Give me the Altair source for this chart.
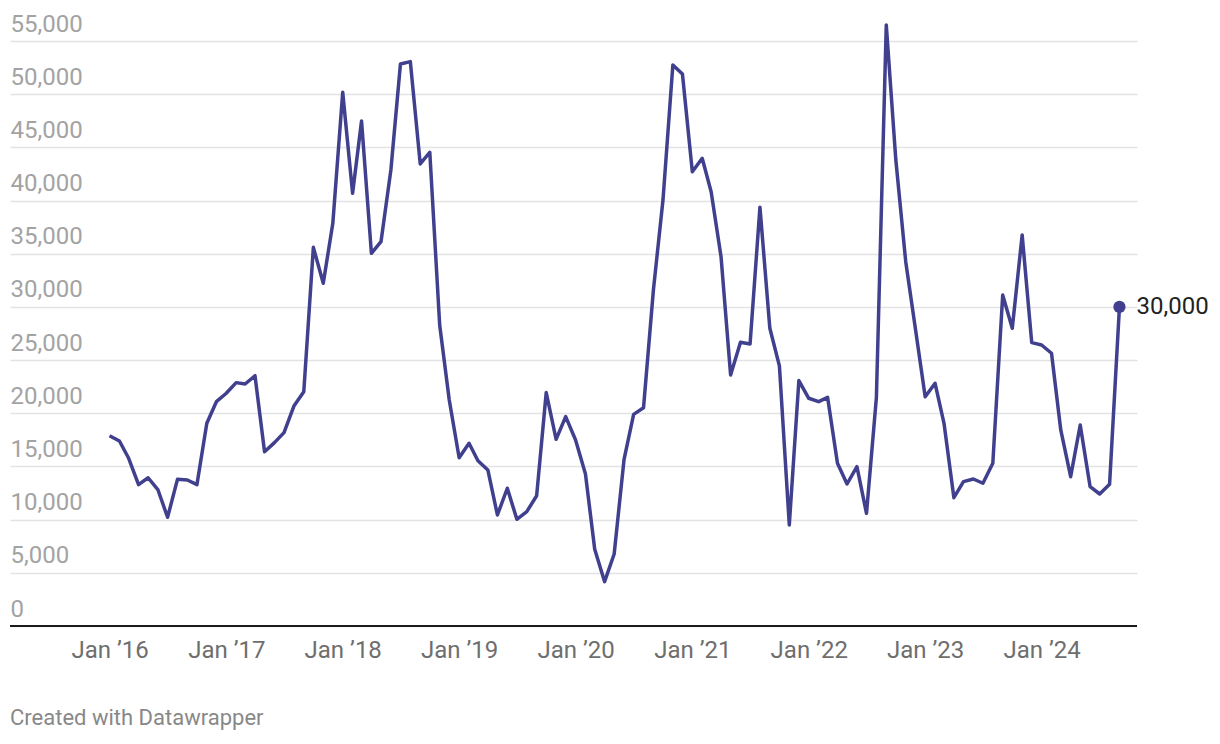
import altair as alt
import pandas as pd

# Monthly values, Jan 2016 .. Sep 2024
v2016 = [17890, 17390, 15770, 13290, 13940, 12790, 10220, 13790, 13730, 13290, 19060, 21090]
v2017 = [21880, 22880, 22750, 23530, 16390, 17240, 18180, 20680, 22030, 35600, 32220, 37860]
v2018 = [50180, 40680, 47480, 35040, 36130, 42870, 52840, 53060, 43440, 44540, 28300, 21250]
v2019 = [15820, 17180, 15540, 14670, 10440, 12950, 10030, 10750, 12250, 21950, 17550, 19680]
v2020 = [17490, 14290, 7210, 4170, 6770, 15670, 19900, 20520, 31590, 40050, 52750, 51900]
v2021 = [42710, 43970, 40830, 34720, 23600, 26670, 26510, 39370, 27990, 24450, 9500, 23070]
v2022 = [21410, 21090, 21500, 15300, 13350, 14980, 10590, 21480, 56510, 43810, 34250, 28020]
v2023 = [21560, 22820, 19060, 12060, 13570, 13820, 13420, 15300, 31120, 27990, 36760, 26640]
v2024 = [26420, 25640, 18430, 14040, 18900, 13100, 12410, 13320, 30000]

values = v2016 + v2017 + v2018 + v2019 + v2020 + v2021 + v2022 + v2023 + v2024
dates = pd.date_range("2016-01-01", periods=len(values), freq="MS").strftime("%Y-%m-%d").tolist()

y_ticks = [0, 5000, 10000, 15000, 20000, 25000, 30000, 35000, 40000, 45000, 50000, 55000]
x_tick_years = list(range(2016, 2025))
last_label = ["30,000"]
credit = ["Created with Datawrapper"]

df = pd.DataFrame({"date": dates, "value": values})
last = df.tail(1).assign(label=last_label)

W, H = 1127, 585
FONT = "Roboto"
LINE = "#40408f"

xscale = alt.Scale(
    type="utc",
    domain=[alt.DateTime(year=2015, month=2, date=23, utc=True),
            alt.DateTime(year=2024, month=10, date=26, utc=True)],
)
yscale = alt.Scale(domain=[0, 55000], nice=False, zero=True)

x_axis = alt.Axis(
    values=[alt.DateTime(year=y, month=1, date=1, utc=True) for y in x_tick_years],
    labelExpr="'Jan \u2019' + utcFormat(datum.value, '%y')",
    title=None, grid=False, domain=False, ticks=False,
    labelFont=FONT, labelFontSize=24, labelColor="#6e6e6e",
    labelPadding=12, labelAlign="center",
)
y_axis = alt.Axis(
    values=y_ticks, format=",d", title=None,
    grid=True, gridColor="#e3e3e3", gridWidth=1.5,
    domain=False, ticks=False,
    labelFont=FONT, labelFontSize=24, labelColor="#a3a3a3",
    labelAlign="left", labelBaseline="bottom", labelPadding=0, labelOffset=-5,
)

line = alt.Chart(df).mark_line(color=LINE, strokeWidth=3.5, clip=False, strokeJoin="round").encode(
    x=alt.X("date:T", scale=xscale, axis=x_axis),
    y=alt.Y("value:Q", scale=yscale, axis=y_axis),
)

baseline = alt.Chart(pd.DataFrame({"value": [0]})).mark_rule(color="#1a1a1a", strokeWidth=2).encode(
    y=alt.Y("value:Q", scale=yscale, axis=y_axis), x=alt.value(0), x2=alt.value(W)
)

dot = alt.Chart(last).mark_circle(color=LINE, size=150, opacity=1).encode(
    x=alt.X("date:T", scale=xscale, axis=x_axis),
    y=alt.Y("value:Q", scale=yscale, axis=y_axis),
)

label = alt.Chart(last).mark_text(
    align="left", baseline="middle", dx=17, font=FONT, fontSize=24, color="#222222"
).encode(
    x=alt.X("date:T", scale=xscale, axis=x_axis),
    y=alt.Y("value:Q", scale=yscale, axis=y_axis),
    text="label:N",
)

credit_text = alt.Chart(pd.DataFrame({"t": credit})).mark_text(
    align="left", baseline="middle", font=FONT, fontSize=22, color="#888888"
).encode(x=alt.value(0), y=alt.value(677), text="t:N")

chart = alt.layer(line, baseline, dot, label, credit_text).properties(
    width=W, height=H,
    background="white",
    autosize=alt.AutoSizeParams(type="none"),
    padding={"left": 2, "top": 33, "right": 75, "bottom": 115},
).configure_view(strokeWidth=0, stroke="transparent")

chart.save("out.html", embed_options={"renderer": "svg", "actions": False})
